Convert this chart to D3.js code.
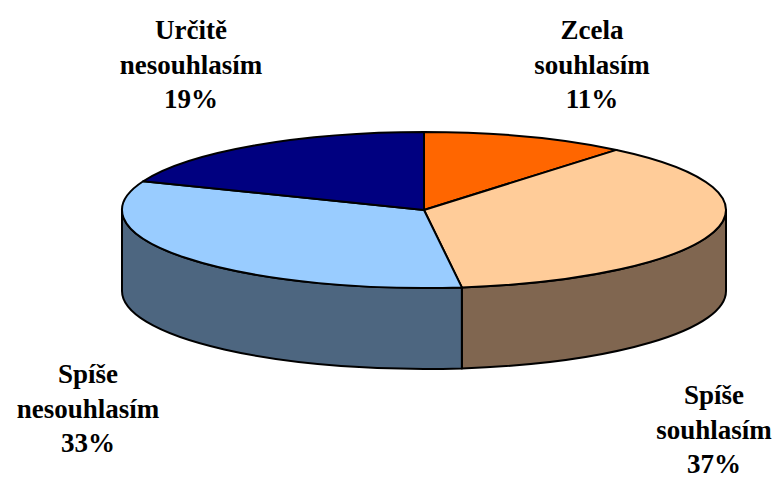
<!DOCTYPE html>
<html>
<head>
<meta charset="utf-8">
<script src="https://cdn.jsdelivr.net/npm/d3@7"></script>
<style>
  body { margin: 0; background: #fff; }
</style>
</head>
<body>
<div class="pieViz"></div>
<script>
// data
var categories = ["Zcela souhlasím", "Spíše souhlasím", "Spíše nesouhlasím", "Určitě nesouhlasím"]
var labelLines = [["Zcela", "souhlasím"], ["Spíše", "souhlasím"], ["Spíše", "nesouhlasím"], ["Určitě", "nesouhlasím"]]
var values = [11, 37, 33, 19]
var topColors = ["#FF6600", "#FFCC99", "#99CCFF", "#000080"]
var sideColors = ["#803300", "#806650", "#4D6680", "#000040"]

function chart() {
    var width = 780, height = 479
    var cx = 424, cy = 210, rx = 302, ry = 78, depth = 81

    // label anchors (center x, first baseline)
    var labelPos = [[592, 39], [714, 404], [88, 383], [191, 39]]

    const svg = d3.select(".pieViz")
        .append("svg")
        .attr("width", width)
        .attr("height", height)

    var pie = d3.pie().sort(null).startAngle(0).endAngle(2 * Math.PI)
    var arcs = pie(values)

    function pt(a, dy) {
        return [cx + rx * Math.sin(a), cy - ry * Math.cos(a) + (dy || 0)]
    }

    // sides (only front half is visible)
    var lo = Math.PI / 2, hi = 3 * Math.PI / 2
    arcs.forEach(function (d, i) {
        var a0 = Math.max(d.startAngle, lo), a1 = Math.min(d.endAngle, hi)
        if (a1 <= a0) return
        var p0 = pt(a0), p1 = pt(a1), q0 = pt(a0, depth), q1 = pt(a1, depth)
        var large = (a1 - a0) > Math.PI ? 1 : 0
        var path = `M${p0} A${rx},${ry} 0 ${large} 1 ${p1} L${q1} A${rx},${ry} 0 ${large} 0 ${q0} Z`
        svg.append("path")
            .attr("d", path)
            .attr("fill", sideColors[i])
            .attr("stroke", "#000")
            .attr("stroke-width", 2)
            .attr("stroke-linejoin", "round")
    })

    // top face
    arcs.forEach(function (d, i) {
        var p0 = pt(d.startAngle), p1 = pt(d.endAngle)
        var large = (d.endAngle - d.startAngle) > Math.PI ? 1 : 0
        var path = `M${cx},${cy} L${p0} A${rx},${ry} 0 ${large} 1 ${p1} Z`
        svg.append("path")
            .attr("d", path)
            .attr("fill", topColors[i])
            .attr("stroke", "#000")
            .attr("stroke-width", 2)
            .attr("stroke-linejoin", "round")
    })

    // labels
    arcs.forEach(function (d, i) {
        var lines = labelLines[i].concat([values[i] + "%"])
        var t = svg.append("text")
            .attr("text-anchor", "middle")
            .attr("font-family", "'Liberation Serif', 'Times New Roman', Times, 'DejaVu Serif', serif")
            .attr("font-weight", "bold")
            .attr("font-size", 27)
            .attr("fill", "#000")
        lines.forEach(function (s, k) {
            t.append("tspan")
                .attr("x", labelPos[i][0])
                .attr("y", labelPos[i][1] + k * 34.5)
                .text(s)
        })
    })
}

chart()
</script>
</body>
</html>
